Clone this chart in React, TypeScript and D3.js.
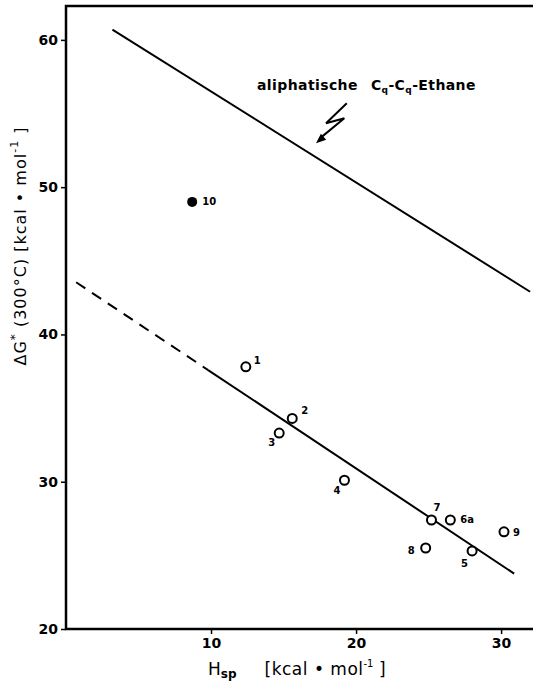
import React, { useEffect, useRef } from "react";
import * as d3 from "d3";

// open circles: compound number, Hsp, dG(300°C)
const ids = ["1", "2", "3", "4", "5", "6a", "7", "8", "9"];
const hsp = [12.4, 15.6, 14.7, 19.2, 28.0, 26.5, 25.2, 24.8, 30.2];
const dG = [37.8, 34.3, 33.3, 30.1, 25.3, 27.4, 27.4, 25.5, 26.6];

// filled point
const filledId = "10";
const filledHsp = 8.7;
const filledDG = 49.0;

// regression lines
const upperLine = [[3.2, 60.7], [32.0, 42.9]];
const lowerA = 44.0, lowerB = -0.655;
const lowerDashX = [0.7, 9.8];
const lowerSolidX = [9.8, 30.9];

const xTicks = [10, 20, 30];
const yTicks = [20, 30, 40, 50, 60];

// label offsets in px (dx, dy of baseline)
const labelOffset: Record<string, [number, number]> = {
  "1": [8, -3], "2": [9, -4], "3": [-11, 13], "4": [-11, 14], "5": [-11, 16],
  "6a": [10, 3], "7": [2, -9], "8": [-18, 6], "9": [9, 4], "10": [10, 3],
};

// annotation arrow (data coords)
const bolt = [[19.36, 55.7], [17.93, 54.34], [19.19, 54.68], [17.24, 52.98]];

const W = 533, H = 682;
const FONT = "'DejaVu Sans', sans-serif";

export default function App() {
  const ref = useRef<SVGSVGElement>(null);

  useEffect(() => {
    const svg = d3.select(ref.current);
    svg.selectAll("*").remove();

    const x = d3.scaleLinear().domain([0, 32.2]).range([66, 533]);
    const y = d3.scaleLinear().domain([20, 62.3]).range([629, 6]);

    const g = svg.append("g");

    // frame: left axis, top edge, bottom axis
    g.append("path")
      .attr("d", `M${x(32.2)},${y(62.3)}H${x(0)}V${y(20)}H${x(32.2)}`)
      .attr("fill", "none").attr("stroke", "#000").attr("stroke-width", 2.5);

    const yAxis = g.append("g").attr("transform", `translate(${x(0)},0)`)
      .call(d3.axisLeft(y).tickValues(yTicks).tickSize(5).tickPadding(3).tickFormat(d3.format("d")));
    yAxis.select(".domain").remove();
    yAxis.selectAll("line").attr("stroke-width", 1.5);
    yAxis.selectAll("text").attr("font-family", FONT).attr("font-size", 14).attr("font-weight", "bold");

    const xAxis = g.append("g").attr("transform", `translate(0,${y(20)})`)
      .call(d3.axisBottom(x).tickValues(xTicks).tickSize(5).tickPadding(4).tickFormat(d3.format("d")));
    xAxis.select(".domain").remove();
    xAxis.selectAll("line").attr("stroke-width", 1.5);
    xAxis.selectAll("text").attr("font-family", FONT).attr("font-size", 14).attr("font-weight", "bold");

    // axis titles
    const xt = g.append("text").attr("x", 208).attr("y", 675)
      .attr("font-family", FONT).attr("font-size", 17);
    xt.append("tspan").text("H");
    xt.append("tspan").attr("font-size", 12).attr("dy", 3).attr("font-weight", "bold").text("sp");
    xt.append("tspan").attr("dy", -3).attr("dx", 28).attr("letter-spacing", 0.5).text("[kcal • mol");
    xt.append("tspan").attr("font-size", 10).attr("dy", -8).text("-1");
    xt.append("tspan").attr("dy", 8).text(" ]");

    const yt = g.append("text").attr("transform", "translate(26,246) rotate(-90)")
      .attr("text-anchor", "middle").attr("font-family", FONT).attr("font-size", 16)
      .attr("letter-spacing", 1);
    yt.append("tspan").text("ΔG");
    yt.append("tspan").attr("font-size", 12).attr("dy", -7).text("*");
    yt.append("tspan").attr("dy", 7).text(" (300°C)   [kcal • mol");
    yt.append("tspan").attr("font-size", 11).attr("dy", -8).text("-1");
    yt.append("tspan").attr("dy", 8).text(" ]");

    // lines
    const line = d3.line<number[]>().x(d => x(d[0])).y(d => y(d[1]));
    g.append("path").attr("d", line(upperLine))
      .attr("fill", "none").attr("stroke", "#000").attr("stroke-width", 2);
    g.append("path").attr("d", line(lowerDashX.map(v => [v, lowerA + lowerB * v])))
      .attr("fill", "none").attr("stroke", "#000").attr("stroke-width", 2).attr("stroke-dasharray", "11 8");
    g.append("path").attr("d", line(lowerSolidX.map(v => [v, lowerA + lowerB * v])))
      .attr("fill", "none").attr("stroke", "#000").attr("stroke-width", 2);

    // annotation
    const at = g.append("text").attr("x", x(13.17)).attr("y", y(56.6))
      .attr("font-family", FONT).attr("font-size", 14).attr("font-weight", "bold")
      .attr("letter-spacing", 0.4);
    at.append("tspan").text("aliphatische");
    at.append("tspan").attr("dx", 13).text("C");
    at.append("tspan").attr("font-size", 9).attr("dy", 3).text("q");
    at.append("tspan").attr("dy", -3).text("-C");
    at.append("tspan").attr("font-size", 9).attr("dy", 3).text("q");
    at.append("tspan").attr("dy", -3).text("-Ethane");

    g.append("path").attr("d", line(bolt.slice(0, 3).concat([[bolt[3][0] + 0.35, bolt[3][1] + 0.4]])))
      .attr("fill", "none").attr("stroke", "#000").attr("stroke-width", 2);
    // arrow head
    const tip = bolt[3], prev = bolt[2];
    const tx = x(tip[0]), ty = y(tip[1]);
    const ang = Math.atan2(ty - y(prev[1]), tx - x(prev[0]));
    const hl = 10, hw = 4;
    const bx = tx - hl * Math.cos(ang), by = ty - hl * Math.sin(ang);
    g.append("path")
      .attr("d", `M${tx},${ty}L${bx + hw * Math.sin(ang)},${by - hw * Math.cos(ang)}L${bx - hw * Math.sin(ang)},${by + hw * Math.cos(ang)}Z`)
      .attr("fill", "#000");

    // points
    const pts = ids.map((id, i) => ({ id, hx: hsp[i], dg: dG[i] }));
    g.selectAll(".pt").data(pts).join("circle").attr("class", "pt")
      .attr("cx", d => x(d.hx)).attr("cy", d => y(d.dg)).attr("r", 4.5)
      .attr("fill", "#fff").attr("stroke", "#000").attr("stroke-width", 2);
    g.append("circle").attr("cx", x(filledHsp)).attr("cy", y(filledDG)).attr("r", 5).attr("fill", "#000");

    const allLabels = pts.map(p => ({ id: p.id, hx: p.hx, dg: p.dg }))
      .concat([{ id: filledId, hx: filledHsp, dg: filledDG }]);
    g.selectAll(".lbl").data(allLabels).join("text").attr("class", "lbl")
      .attr("x", d => x(d.hx) + labelOffset[d.id][0])
      .attr("y", d => y(d.dg) + labelOffset[d.id][1])
      .attr("font-family", FONT).attr("font-size", 10).attr("font-weight", "bold")
      .text(d => d.id);
  }, []);

  return (
    <svg ref={ref} width={W} height={H}
      style={{ position: "absolute", left: 0, top: 0, background: "#fff" }} />
  );
}
